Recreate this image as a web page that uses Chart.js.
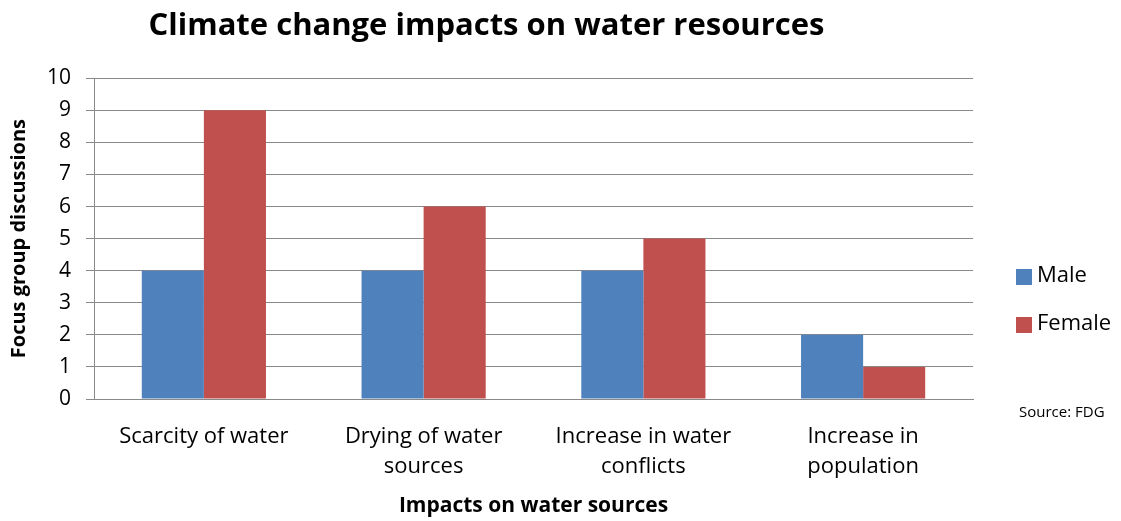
<!DOCTYPE html>
<html>
<head>
<meta charset="utf-8">
<title>Climate change impacts on water resources</title>
<script src="https://cdn.jsdelivr.net/npm/chart.js@4"></script>
<style>
  html, body { margin: 0; padding: 0; background: #fff; }
  #wrap { position: relative; width: 1121px; height: 521px; }
</style>
</head>
<body>
<div id="wrap"><canvas id="chart" width="1121" height="521"></canvas></div>
<script>
// Impacts reported in focus group discussions, by gender
const categories = [
  'Scarcity of water',
  ['Drying of water', 'sources'],
  ['Increase in water', 'conflicts'],
  ['Increase in', 'population']
];
const maleValues = [4, 4, 4, 2];
const femaleValues = [9, 6, 5, 1];
const yTicks = [0, 1, 2, 3, 4, 5, 6, 7, 8, 9, 10];

const FONT = "'Open Sans', 'Noto Sans', sans-serif";
const GRID = '#898989';
const COLORS = { male: '#4F81BD', female: '#C0504D' };

// legend and source note sit in the right margin
const sideNotes = {
  id: 'sideNotes',
  afterDraw(chart) {
    const ctx = chart.ctx;
    ctx.save();
    ctx.textBaseline = 'middle';
    ctx.textAlign = 'left';
    ctx.font = '22px ' + FONT;
    chart.data.datasets.forEach((ds, i) => {
      const y = 277 + i * 48;
      ctx.fillStyle = ds.backgroundColor;
      ctx.fillRect(1016, y - 8, 16, 16);
      ctx.fillStyle = '#000';
      ctx.fillText(ds.label, 1037, y - 1);
    });
    ctx.font = '15px ' + FONT;
    ctx.fillText('Source: FDG', 1019, 413);
    ctx.restore();
  }
};

new Chart(document.getElementById('chart'), {
  type: 'bar',
  data: {
    labels: categories,
    datasets: [
      { label: 'Male', data: maleValues, backgroundColor: COLORS.male },
      { label: 'Female', data: femaleValues, backgroundColor: COLORS.female }
    ]
  },
  options: {
    responsive: false,
    animation: false,
    layout: { padding: { left: 0, right: 148, top: 0, bottom: 0 } },
    datasets: { bar: { categoryPercentage: 0.565, barPercentage: 1.0 } },
    plugins: {
      legend: { display: false },
      tooltip: { enabled: false },
      title: {
        display: true,
        text: 'Climate change impacts on water resources',
        color: '#000',
        font: { family: FONT, size: 31, weight: 'bold', lineHeight: 1.2 },
        padding: { top: 8, bottom: 33 }
      }
    },
    scales: {
      x: {
        grid: { display: false, drawTicks: false },
        border: { color: GRID, width: 1 },
        ticks: {
          color: '#000',
          padding: 22,
          maxRotation: 0,
          autoSkip: false,
          font: { family: FONT, size: 22, lineHeight: 1.4 }
        },
        title: {
          display: true,
          text: 'Impacts on water sources',
          color: '#000',
          font: { family: FONT, size: 21, weight: 'bold', lineHeight: 1.2 },
          padding: { top: 0, bottom: 2 }
        },
        afterFit(scale) { scale.height = 122; }
      },
      y: {
        min: 0,
        max: 10,
        afterBuildTicks(scale) { scale.ticks = yTicks.map(v => ({ value: v })); },
        grid: { color: GRID, lineWidth: 1, tickLength: 8 },
        border: { color: GRID, width: 1 },
        ticks: {
          color: '#000',
          padding: 15,
          font: { family: FONT, size: 21 }
        },
        title: {
          display: true,
          text: 'Focus group discussions',
          color: '#000',
          font: { family: FONT, size: 20, weight: 'bold', lineHeight: 1.1 },
          padding: { top: 8, bottom: 0 }
        },
        afterFit(scale) { scale.width = 94; }
      }
    }
  },
  plugins: [sideNotes]
});
</script>
</body>
</html>
